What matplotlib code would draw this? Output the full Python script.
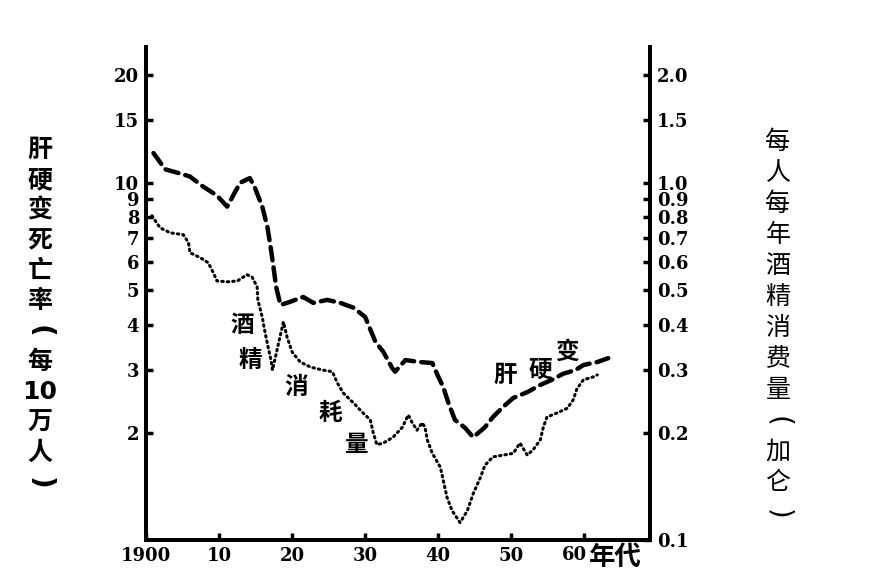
import matplotlib
matplotlib.use("Agg")
import matplotlib.pyplot as plt
from matplotlib.ticker import FixedLocator, NullLocator

plt.rcParams['font.family'] = ['Noto Sans CJK SC', 'DejaVu Sans']

# Cirrhosis death rate (per 100,000), left axis
cir_years = [1901.0, 1902.6, 1904.7, 1906.0, 1907.8, 1909.7, 1911.1, 1912.2, 1912.9, 1914.2,
             1914.9, 1915.9, 1916.6, 1917.0, 1917.4, 1917.8, 1918.4, 1919.7, 1921.5, 1922.9,
             1924.8, 1926.6, 1928.4, 1930.0, 1931.4, 1932.5, 1933.7, 1934.1, 1935.5, 1937.5,
             1939.2, 1939.9, 1940.7, 1941.4, 1942.3, 1943.7, 1944.8, 1946.4, 1947.5, 1948.9,
             1950.3, 1952.3, 1954.0, 1955.6, 1957.1, 1958.8, 1959.9, 1961.8, 1963.3]
cir_rate = [12.1, 10.9, 10.6, 10.4, 9.75, 9.2, 8.57, 9.44, 10.0, 10.3,
            9.68, 8.57, 7.53, 6.70, 5.89, 5.11, 4.55, 4.64, 4.79, 4.61,
            4.70, 4.61, 4.47, 4.21, 3.59, 3.36, 3.03, 2.96, 3.19, 3.15,
            3.13, 2.90, 2.68, 2.42, 2.17, 2.06, 1.94, 2.07, 2.21, 2.36,
            2.50, 2.60, 2.72, 2.81, 2.92, 2.99, 3.09, 3.15, 3.23]

# Per-capita alcohol consumption (gallons), right axis
alc_years = [1900.8, 1901.9, 1903.3, 1905.1, 1905.8, 1906.0, 1907.4, 1908.5, 1909.2, 1909.7,
             1911.1, 1912.5, 1913.8, 1914.5, 1915.2, 1915.3, 1915.9, 1916.3, 1916.7, 1917.1,
             1917.3, 1918.8, 1919.3, 1920.0, 1921.1, 1922.5, 1924.2, 1925.5, 1926.2, 1927.0,
             1928.4, 1929.7, 1930.7, 1931.1, 1931.6, 1932.5, 1933.8, 1935.1, 1935.9, 1936.4,
             1937.1, 1937.8, 1938.2, 1938.5, 1939.2, 1940.3, 1940.7, 1941.2, 1941.9, 1943.0,
             1944.0, 1944.8, 1945.8, 1946.4, 1947.5, 1948.9, 1950.3, 1951.2, 1952.2, 1953.0,
             1954.0, 1954.4, 1954.9, 1956.3, 1957.7, 1958.5, 1959.0, 1959.9, 1961.2, 1961.8]
alc_gal = [0.808, 0.748, 0.724, 0.715, 0.679, 0.637, 0.617, 0.597, 0.560, 0.531,
           0.528, 0.531, 0.553, 0.545, 0.511, 0.470, 0.421, 0.380, 0.347, 0.319,
           0.299, 0.408, 0.370, 0.336, 0.315, 0.305, 0.299, 0.296, 0.275, 0.258,
           0.242, 0.227, 0.217, 0.200, 0.185, 0.187, 0.194, 0.207, 0.224, 0.214,
           0.203, 0.213, 0.207, 0.191, 0.175, 0.160, 0.147, 0.132, 0.121, 0.112,
           0.121, 0.135, 0.150, 0.162, 0.171, 0.173, 0.175, 0.187, 0.173, 0.179,
           0.191, 0.207, 0.221, 0.227, 0.234, 0.247, 0.265, 0.281, 0.286, 0.290]

left_ticks = [2, 3, 4, 5, 6, 7, 8, 9, 10, 15, 20]
right_ticks = [0.1, 0.2, 0.3, 0.4, 0.5, 0.6, 0.7, 0.8, 0.9, 1.0, 1.5, 2.0]
right_labels = ['0.1', '0.2', '0.3', '0.4', '0.5', '0.6', '0.7', '0.8', '0.9', '1.0', '1.5', '2.0']
x_ticks = [1900, 1910, 1920, 1930, 1940, 1950, 1960]
x_labels = ['1900', '10', '20', '30', '40', '50', '']

left_title = ['肝', '硬', '变', '死', '亡', '率', '(', '每', '10', '万', '人', ')']
right_title = ['每', '人', '每', '年', '酒', '精', '消', '费', '量', '(', '加', '仑', ')']

W, H = 870, 584
fig = plt.figure(figsize=(8.7, 5.84), dpi=100)
ax = fig.add_axes([0.168, 0.075, 0.579, 0.845])
ax2 = ax.twinx()

ax.plot(cir_years, cir_rate, color='black', lw=3.2, ls=(0, (3, 1.6)),
        dash_capstyle='round')
ax2.plot(alc_years, alc_gal, color='black', lw=2.2, ls=(0, (0.5, 1.3)), dash_capstyle='round')

ax.set_yscale('log')
ax2.set_yscale('log')
ax.set_ylim(1, 24.0)
ax2.set_ylim(0.1, 2.40)
ax.set_xlim(1900, 1969)

serif_bold = dict(family='DejaVu Serif', weight='bold', size=13)

ax.yaxis.set_major_locator(FixedLocator(left_ticks))
ax.yaxis.set_minor_locator(NullLocator())
ax.set_yticklabels([str(t) for t in left_ticks], fontdict=serif_bold)
ax2.yaxis.set_major_locator(FixedLocator(right_ticks))
ax2.yaxis.set_minor_locator(NullLocator())
ax2.set_yticklabels(right_labels, fontdict=serif_bold)
ax.set_xticks(x_ticks)
ax.set_xticklabels(x_labels, fontdict=serif_bold)

for a in (ax, ax2):
    a.spines['top'].set_visible(False)
    for s in ('left', 'right', 'bottom'):
        a.spines[s].set_linewidth(2.8)
    a.tick_params(direction='in', length=5, width=2.5, pad=5)

# last x tick label "60年代"
lab_y = -0.012
ax.text(1960.4, lab_y, '60', transform=ax.get_xaxis_transform(), ha='right', va='top',
        fontdict=serif_bold)
ax.text(1960.6, lab_y + 0.004, '年代', transform=ax.get_xaxis_transform(), ha='left', va='top',
        fontsize=19, fontweight='bold')

# in-plot labels
txt = dict(fontsize=17, fontweight='bold', ha='center', va='center')
ax.text(1913.2, 4.0, '酒', **txt)
ax.text(1914.3, 3.19, '精', **txt)
ax.text(1920.5, 2.68, '消', **txt)
ax.text(1925.2, 2.27, '耗', **txt)
ax.text(1928.9, 1.85, '量', **txt)
ax.text(1949.2, 2.90, '肝', **txt)
ax.text(1954.0, 2.99, '硬', **txt)
ax.text(1957.6, 3.36, '变', **txt)


def vertical_title(chars, xc, y0, step, weight):
    for i, ch in enumerate(chars):
        y = y0 + i * step
        if ch in '()':
            fig.text(xc / W, 1 - y / H, ch, ha='center', va='center', fontsize=20,
                     rotation=-90, fontweight=weight, family='DejaVu Sans')
        elif ch.isdigit():
            fig.text(xc / W, 1 - y / H, ch, ha='center', va='center', fontsize=18,
                     fontweight='bold', family='DejaVu Sans')
        else:
            fig.text(xc / W, 1 - y / H, ch, ha='center', va='center', fontsize=18,
                     fontweight=weight)


vertical_title(left_title, 40, 150, 30.3, 'bold')
vertical_title(right_title, 778, 142, 31.0, 'normal')

fig.savefig('out.png', dpi=100)
